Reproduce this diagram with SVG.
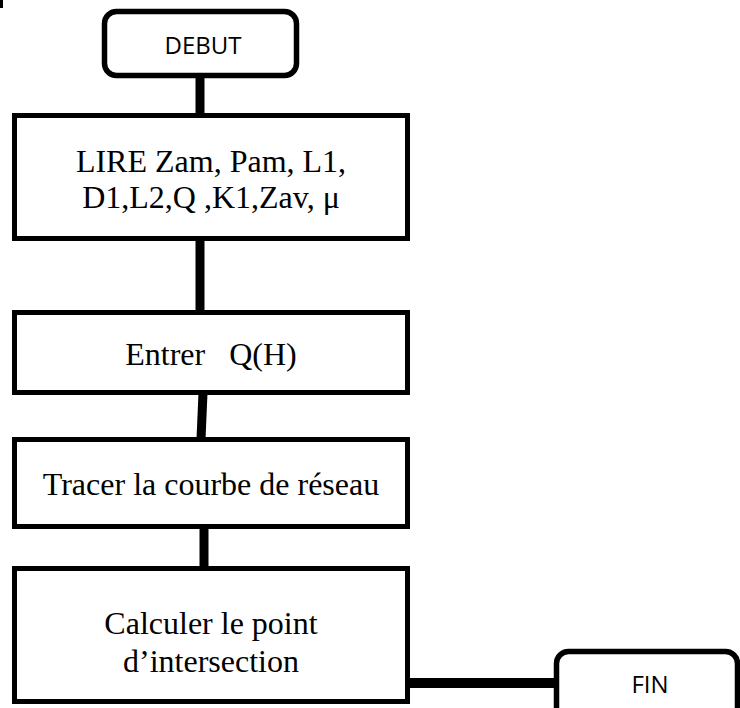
<svg xmlns="http://www.w3.org/2000/svg" width="740" height="708" viewBox="0 0 740 708">
<style>
.box{fill:#fff;stroke:#000;stroke-width:5}
.term{fill:#fff;stroke:#000;stroke-width:5.5}
.con{stroke:#000;stroke-width:9;fill:none}
.serif{font-family:"Liberation Serif","Times New Roman",serif;font-size:32px;fill:#000;text-anchor:middle}
.sans{font-family:"Open Sans","Noto Sans",sans-serif;font-size:24px;fill:#000;text-anchor:middle}
</style>
<rect x="0" y="0" width="3" height="8" fill="#000"/>
<g id="connectors">
<line class="con" x1="200" y1="76" x2="200" y2="115"/>
<line class="con" x1="200" y1="239" x2="200" y2="312"/>
<line class="con" x1="203" y1="393" x2="201" y2="439"/>
<line class="con" x1="204" y1="527" x2="204" y2="568"/>
<line class="con" x1="408" y1="683" x2="557" y2="683" style="stroke-width:10"/>
</g>
<g id="debut">
<rect class="term" x="104.5" y="11.5" width="192" height="64" rx="12"/>
<text class="sans" x="203" y="54">DEBUT</text>
</g>
<g id="lire">
<rect class="box" x="14.5" y="115.5" width="393" height="123"/>
<text class="serif" x="211" y="172">LIRE Zam, Pam, L1,</text>
<text class="serif" x="211" y="208">D1,L2,Q ,K1,Zav, μ</text>
</g>
<g id="entrer">
<rect class="box" x="14.5" y="312.5" width="393" height="80"/>
<text class="serif" x="211" y="365" xml:space="preserve">Entrer   Q(H)</text>
</g>
<g id="tracer">
<rect class="box" x="14.5" y="439.5" width="393" height="87"/>
<text class="serif" x="211" y="495">Tracer la courbe de réseau</text>
</g>
<g id="calculer">
<rect class="box" x="14.5" y="568.5" width="393" height="133"/>
<text class="serif" x="211" y="634">Calculer le point</text>
<text class="serif" x="211" y="672">d’intersection</text>
</g>
<g id="fin">
<rect class="term" x="556.5" y="651.5" width="181" height="70" rx="12"/>
<text class="sans" x="650" y="693">FIN</text>
</g>
</svg>
